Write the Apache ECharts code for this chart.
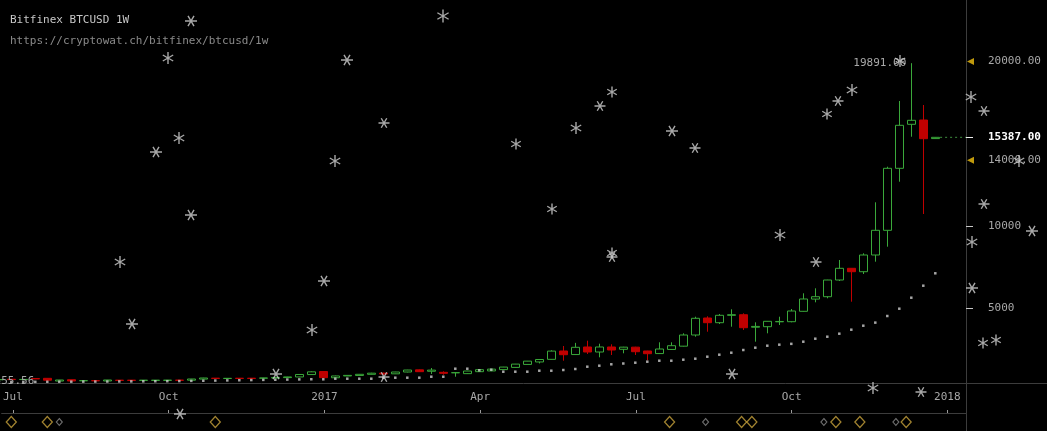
<!DOCTYPE html>
<html><head><meta charset="utf-8">
<script src="https://cdn.jsdelivr.net/npm/echarts@6/dist/echarts.min.js"></script>
<style>html,body{margin:0;padding:0;background:#000;}#c{width:1047px;height:431px;}</style>
</head><body><div id="c"></div><script>
// weekly candles (week start, Thursday)
const weeks = ['2016-06-30','2016-07-07','2016-07-14','2016-07-21','2016-07-28','2016-08-04','2016-08-11','2016-08-18','2016-08-25','2016-09-01','2016-09-08','2016-09-15','2016-09-22','2016-09-29','2016-10-06','2016-10-13','2016-10-20','2016-10-27','2016-11-03','2016-11-10','2016-11-17','2016-11-24','2016-12-01','2016-12-08','2016-12-15','2016-12-22','2016-12-29',
'2017-01-05','2017-01-12','2017-01-19','2017-01-26','2017-02-02','2017-02-09','2017-02-16','2017-02-23','2017-03-02','2017-03-09','2017-03-16','2017-03-23','2017-03-30','2017-04-06','2017-04-13','2017-04-20','2017-04-27','2017-05-04','2017-05-11','2017-05-18','2017-05-25','2017-06-01','2017-06-08','2017-06-15','2017-06-22','2017-06-29','2017-07-06','2017-07-13','2017-07-20','2017-07-27','2017-08-03','2017-08-10','2017-08-17','2017-08-24','2017-08-31','2017-09-07','2017-09-14','2017-09-21','2017-09-28','2017-10-05','2017-10-12','2017-10-19','2017-10-26','2017-11-02','2017-11-09','2017-11-16','2017-11-23','2017-11-30','2017-12-07','2017-12-14','2017-12-21','2017-12-28'];
const opens  = [660,690,670,730,745,580,662,598,606,585,632,632,620,620,622,636,632,700,753,735,750,750,752,770,790,830,975,
1160,780,890,920,990,1060,1020,1130,1260,1175,1110,1080,1030,1150,1195,1275,1410,1590,1740,1900,2406,2190,2649,2345,2649,2510,2640,2406,2250,2500,2700,3378,4410,4125,4574,4610,3850,3882,4180,4186,4817,5560,5704,6719,7430,7223,8238,9738,13505,16178,16439,15310];
const closes = [675,670,680,712,632,644,585,606,596,644,620,620,632,632,634,624,705,765,740,747,740,740,768,790,830,980,1140,
785,890,925,990,1060,1010,1130,1250,1150,1245,1050,1092,1190,1270,1305,1430,1610,1790,1890,2400,2181,2630,2345,2649,2466,2640,2363,2242,2527,2728,3378,4392,4125,4574,4610,3821,3900,4210,4200,4836,5565,5704,6719,7430,7223,8238,9738,13505,16117,16421,15303,15387];
const lows   = [640,655,660,700,555.56,575,580,585,590,580,612,615,612,615,615,615,620,690,730,725,730,732,740,760,780,820,960,
760,760,880,910,980,950,1010,1110,1140,1010,966,844,1010,1140,1180,1265,1400,1580,1650,1890,1816,2170,2223,2023,2163,2266,2163,1840,2230,2480,2680,3274,3578,4046,3882,3681,2971,3481,3985,4150,4800,5364,5607,6658,5401,7083,7831,8742,12691,15424,10728,15300];
const highs  = [690,700,695,745,750,650,668,620,612,648,640,638,638,640,640,645,712,775,760,755,755,755,775,800,840,990,1170,
1190,910,935,1000,1080,1090,1140,1260,1280,1373,1172,1098,1200,1280,1315,1440,1620,1800,1910,2450,2709,2900,3031,2849,2813,2660,2660,2420,2934,2934,3481,4489,4514,4653,4939,4696,4149,4220,4489,4957,5911,6215,6730,7934,7440,8341,11439,13602,17593,19891,17350,15400];
// dotted indicator under the candles
const sarDots = [520,525,528,532,536,540,543,546,549,552,556,560,564,568,572,578,590,600,610,620,630,640,650,660,670,680,690,
686,723,723,723,723,784,784,784,784,844,844,1330,1330,1233,1270,1148,1148,1148,1209,1209,1251,1312,1452,1513,1598,1646,1695,1756,1816,1816,1877,1938,2059,2181,2302,2466,2606,2728,2790,2840,2971,3153,3274,3457,3700,3943,4130,4532,4976,5644,6373,7126];
// x axis
const tickWeeks  = ['2016-07-07','2016-10-06','2017-01-05','2017-04-06','2017-07-06','2017-10-05','2018-01-04'];
const tickLabels = ['Jul','Oct','2017','Apr','Jul','Oct','2018'];
// y axis
const priceTicks = [5000, 10000];
const alertLevels = [20000, 14000];
const lastPrice = 15387;
// event markers
const eventsMajor = ['2016-07-07','2016-07-28','2016-11-03','2017-07-26','2017-09-06','2017-09-12','2017-10-31','2017-11-14','2017-12-11'];
const eventsMinor = ['2016-08-04','2017-08-16','2017-10-24','2017-12-05'];
// falling snow (screen position x, y, size, rotation)
const snowflakes = [[191,21,12,90],[443,16,13,0],[168,58,12,0],[347,60,12,90],[900,61,12,0],[971,97,12,0],[984,111,11,90],[852,90,12,0],[838,101,11,90],[827,114,11,0],[612,92,11,0],[600,106,11,90],[384,123,11,90],[576,128,12,0],[672,131,12,90],[179,138,12,0],[156,152,12,90],[516,144,11,0],[695,148,11,90],[335,161,12,0],[1019,161,12,0],[984,204,11,90],[552,209,11,0],[191,215,12,90],[780,235,12,0],[972,242,12,0],[1032,231,12,90],[612,253,11,0],[612,257,11,90],[120,262,12,0],[816,262,11,90],[324,281,12,90],[972,288,12,90],[132,324,12,90],[312,330,12,0],[983,343,11,0],[996,340,11,0],[276,374,12,90],[384,377,11,90],[732,374,12,90],[873,388,12,0],[921,392,11,90],[180,414,12,90]];

const MONO = 'DejaVu Sans Mono';
const WEEK = 7*864e5;
const t0 = Date.parse(weeks[0]);
const wIdx = d => (Date.parse(d) - t0) / WEEK;
const X_MIN = 0.7/12, X_MAX = 966.7/12;
const Y_MIN = 462, Y_MAX = 23729;
const PLOT_W = 966;
const UP = '#3aa83a', DOWN = '#c00000';

const candleData = weeks.map((w,i)=>[i, opens[i], closes[i], lows[i], highs[i]]);
let iMax = 0, iMin = 0;
highs.forEach((v,i)=>{ if (v > highs[iMax]) iMax = i; });
lows.forEach((v,i)=>{ if (v < lows[iMin]) iMin = i; });
const tickIdx = tickWeeks.map(wIdx);
const lastIdx = weeks.length - 1;

const chart = echarts.init(document.getElementById('c'), null, {renderer:'canvas'});
chart.setOption({
  backgroundColor: '#000',
  animation: false,
  title: [
    {text:'Bitfinex BTCUSD 1W', left:10, top:15, padding:0, textStyle:{color:'#c8c8c8', fontFamily:MONO, fontSize:11, fontWeight:'normal'}},
    {text:'https://cryptowat.ch/bitfinex/btcusd/1w', left:10, top:36, padding:0, textStyle:{color:'#8a8a8a', fontFamily:MONO, fontSize:11, fontWeight:'normal'}}
  ],
  grid: [
    {left:0, top:0, width:PLOT_W, height:383},
    {left:0, top:383, width:PLOT_W, height:30},
    {left:0, top:413, width:PLOT_W, height:18},
    {left:0, top:0, width:1047, height:431}
  ],
  xAxis: [
    {gridIndex:0, type:'value', min:X_MIN, max:X_MAX, show:false},
    {gridIndex:1, type:'value', min:X_MIN, max:X_MAX, position:'bottom',
      axisLine:{show:true, lineStyle:{color:'#3c3c3c'}},
      splitLine:{show:false},
      axisTick:{show:true, inside:true, length:3, customValues:tickIdx, lineStyle:{color:'#9a9a9a'}},
      axisLabel:{inside:true, margin:10, customValues:tickIdx, color:'#a8a8a8', fontFamily:MONO, fontSize:11,
        formatter: v => { const k = tickIdx.indexOf(v); return k >= 0 ? tickLabels[k] : ''; }}},
    {gridIndex:2, type:'value', min:X_MIN, max:X_MAX, show:false},
    {gridIndex:3, type:'value', min:0, max:1047, show:false}
  ],
  yAxis: [
    {gridIndex:0, type:'value', position:'right', min:Y_MIN, max:Y_MAX, splitLine:{show:false},
      axisLine:{show:false},
      axisTick:{show:true, length:7, customValues:priceTicks, lineStyle:{color:'#c8c8c8'}},
      axisLabel:{margin:22, customValues:priceTicks, color:'#a8a8a8', fontFamily:MONO, fontSize:11, formatter: v => String(v)}},
    {gridIndex:0, type:'value', position:'right', min:Y_MIN, max:Y_MAX, splitLine:{show:false},
      axisLine:{show:false},
      axisTick:{show:true, length:7, customValues:[lastPrice], lineStyle:{color:'#eeeeee'}},
      axisLabel:{margin:22, customValues:[...alertLevels, lastPrice], fontFamily:MONO, fontSize:11,
        formatter: v => v === lastPrice ? '{c|' + v.toFixed(2) + '}' : '{a|' + v.toFixed(2) + '}',
        rich:{c:{color:'#ffffff', fontWeight:'bold', fontFamily:MONO, fontSize:11}, a:{color:'#a8a8a8', fontFamily:MONO, fontSize:11}}}},
    {gridIndex:1, type:'value', show:false},
    {gridIndex:2, type:'value', min:0, max:1, show:false},
    {gridIndex:3, type:'value', min:0, max:431, inverse:true, show:false}
  ],
  graphic: [
    {type:'line', shape:{x1:0, y1:383.5, x2:1047, y2:383.5}, style:{stroke:'#3c3c3c', lineWidth:1}, silent:true, z:0},
    {type:'line', shape:{x1:966.5, y1:0, x2:966.5, y2:431}, style:{stroke:'#3c3c3c', lineWidth:1}, silent:true, z:0}
  ],
  series: [
    {type:'candlestick', name:'BTCUSD', xAxisIndex:0, yAxisIndex:0, data:candleData, encode:{x:0, y:[1,2,3,4]},
      barWidth:8,
      itemStyle:{color:'rgba(0,0,0,0)', color0:DOWN, borderColor:UP, borderColor0:DOWN, borderWidth:1},
      markPoint:{symbol:'circle', symbolSize:0, silent:true,
        label:{show:true, position:'left', fontFamily:MONO, fontSize:11, color:'#a8a8a8'},
        data:[
          {coord:[iMax, highs[iMax]], label:{distance:5, formatter: highs[iMax].toFixed(2)}},
          {coord:[iMin, lows[iMin]], label:{distance:13, formatter: lows[iMin].toFixed(2)}}
        ]}},
    {type:'scatter', name:'dots', xAxisIndex:0, yAxisIndex:0, data:sarDots.map((v,i)=>[i,v]),
      symbol:'rect', symbolSize:2.5, itemStyle:{color:'#cfcfcf'}, silent:true},
    {type:'line', name:'last', xAxisIndex:0, yAxisIndex:0, data:[[lastIdx+0.4, lastPrice],[X_MAX, lastPrice]],
      symbol:'none', lineStyle:{color:'#3f8f3f', width:1, type:[2,3]}, silent:true},
    {type:'scatter', name:'alerts', xAxisIndex:0, yAxisIndex:0, data:alertLevels.map(v=>[X_MAX, v]), clip:false,
      symbol:'triangle', symbolSize:[7,7], symbolRotate:90, symbolOffset:[4.5,0], itemStyle:{color:'#f0c010'}, silent:true},
    {type:'scatter', name:'events', xAxisIndex:2, yAxisIndex:3, data:eventsMajor.map(d=>[wIdx(d),0.5]), clip:false,
      symbol:'diamond', symbolSize:[10,11], itemStyle:{color:'rgba(0,0,0,0)', borderColor:'#c9a43c', borderWidth:1.3}, silent:true},
    {type:'scatter', name:'events2', xAxisIndex:2, yAxisIndex:3, data:eventsMinor.map(d=>[wIdx(d),0.5]), clip:false,
      symbol:'diamond', symbolSize:[6,7], itemStyle:{color:'rgba(0,0,0,0)', borderColor:'#8a8a8a', borderWidth:1.1}, silent:true},
    {type:'scatter', name:'snow', xAxisIndex:3, yAxisIndex:4, data:snowflakes, clip:false, z:10,
      symbol:'path://M0,-6L0,6M-5.2,-3L5.2,3M-5.2,3L5.2,-3', symbolKeepAspect:true,
      symbolSize: d => d[2], symbolRotate: d => d[3],
      itemStyle:{color:'rgba(0,0,0,0)', borderColor:'#d2d2d2', borderWidth:1.4}, silent:true}
  ]
});
</script></body></html>
